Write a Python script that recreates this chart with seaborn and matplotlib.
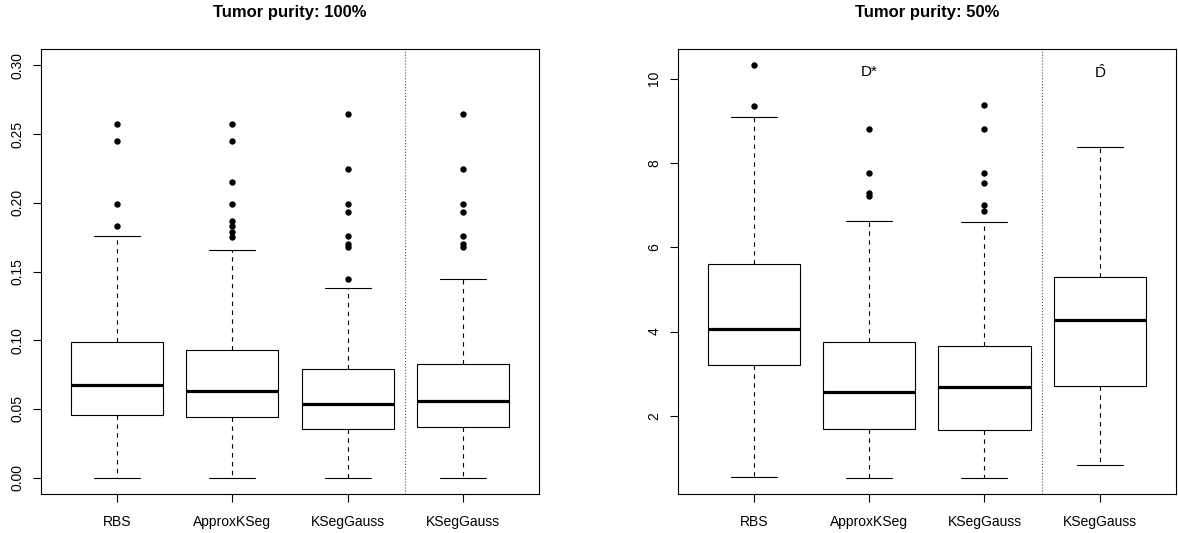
import matplotlib
matplotlib.use("Agg")
import matplotlib.pyplot as plt
import seaborn as sns
import pandas as pd

# ---- data ----
methods = ["RBS", "ApproxKSeg", "KSegGauss", "KSegGauss_2"]
tick_labels = ["RBS", "ApproxKSeg", "KSegGauss", "KSegGauss"]

# tumor purity 100%
p100_lo = [0.0, 0.0, 0.0, 0.0]
p100_q1 = [0.0452, 0.0438, 0.0356, 0.0370]
p100_med = [0.0672, 0.0627, 0.0537, 0.0559]
p100_q3 = [0.0985, 0.0927, 0.0789, 0.0830]
p100_hi = [0.1762, 0.1656, 0.1380, 0.1445]
p100_out = [
    [0.2571, 0.2450, 0.1990, 0.1830],
    [0.2571, 0.2450, 0.2150, 0.1990, 0.1869, 0.1830, 0.1791, 0.1752],
    [0.2646, 0.2246, 0.1990, 0.1930, 0.1762, 0.1700, 0.1675, 0.1445],
    [0.2646, 0.2246, 0.1990, 0.1930, 0.1762, 0.1700, 0.1675],
]

# tumor purity 50%
p50_lo = [0.557, 0.53, 0.53, 0.83]
p50_q1 = [3.20, 1.69, 1.66, 2.70]
p50_med = [4.07, 2.56, 2.69, 4.28]
p50_q3 = [5.59, 3.76, 3.66, 5.30]
p50_hi = [9.09, 6.62, 6.60, 8.38]
p50_out = [
    [10.31, 9.35],
    [8.80, 7.75, 7.29, 7.22],
    [9.37, 8.80, 7.75, 7.52, 7.00, 6.85],
    [],
]


def make_frames(lo, q1, med, q3, hi, outl):
    # five values per method -> exact quartiles / whisker ends with whis=(0,100)
    rows = []
    for i, m in enumerate(methods):
        for v in (lo[i], q1[i], med[i], q3[i], hi[i]):
            rows.append((m, v))
    box_df = pd.DataFrame(rows, columns=["method", "value"])
    orows = [(m, v) for m, vals in zip(methods, outl) for v in vals]
    out_df = pd.DataFrame(orows, columns=["method", "value"])
    return box_df, out_df


sns.set_style("ticks")
plt.rcParams["font.family"] = ["Liberation Sans", "DejaVu Sans"]
plt.rcParams["mathtext.fontset"] = "custom"
plt.rcParams["mathtext.rm"] = "Liberation Sans"
plt.rcParams["text.color"] = "black"
plt.rcParams["xtick.labelcolor"] = "black"
plt.rcParams["ytick.labelcolor"] = "black"

fig = plt.figure(figsize=(11.78, 5.33), dpi=100)
ax1 = fig.add_axes([41 / 1178, 1 - 494 / 533, 498 / 1178, 445 / 533])
ax2 = fig.add_axes([678 / 1178, 1 - 494.3 / 533, 497.7 / 1178, 445.3 / 533])


def draw_panel(ax, box_df, out_df, ylim, yticks, yfmt):
    sns.boxplot(data=box_df, x="method", y="value", order=methods, ax=ax,
                color="white", linecolor="black", linewidth=0.8, width=0.8,
                whis=(0, 100), showfliers=False,
                whiskerprops=dict(linestyle=(0, (4, 4)), color="black"),
                capprops=dict(color="black"),
                medianprops=dict(linewidth=2.3, color="black"))
    if len(out_df):
        sns.stripplot(data=out_df, x="method", y="value", order=methods, ax=ax,
                      jitter=False, color="black", size=4.6, linewidth=0)
    ax.axvline(2.5, color="#555555", linestyle=":", linewidth=0.8)
    ax.set_xlim(-0.66, 3.66)
    ax.set_ylim(*ylim)
    ax.set_xticks(range(len(methods)))
    ax.set_xticklabels(tick_labels, fontsize=10, color="black")
    ax.set_yticks(yticks)
    ax.set_yticklabels([yfmt % t for t in yticks], fontsize=10, rotation=90,
                       va="center", color="black")
    ax.tick_params(axis="both", direction="out", length=6, width=0.8, color="black")
    ax.tick_params(axis="y", pad=6)
    ax.tick_params(axis="x", pad=9)
    ax.set_xlabel("")
    ax.set_ylabel("")
    for s in ax.spines.values():
        s.set_visible(True)
        s.set_color("black")
        s.set_linewidth(0.8)


b1, o1 = make_frames(p100_lo, p100_q1, p100_med, p100_q3, p100_hi, p100_out)
b2, o2 = make_frames(p50_lo, p50_q1, p50_med, p50_q3, p50_hi, p50_out)

draw_panel(ax1, b1, o1, (-0.012, 0.312), [0.0, 0.05, 0.10, 0.15, 0.20, 0.25, 0.30], "%.2f")
draw_panel(ax2, b2, o2, (0.139, 10.70), [2, 4, 6, 8, 10], "%d")

ax2.text(1, 10.15, "D*", ha="center", va="center", fontsize=11, color="black")
ax2.text(3, 10.15, r"$\hat{\mathrm{D}}$", ha="center", va="center", fontsize=11,
         color="black")

fig.text(290 / 1178, 1 - 13 / 533, "Tumor purity: 100%", ha="center", va="center",
         fontsize=12, fontweight="bold", color="black")
fig.text(927 / 1178, 1 - 13 / 533, "Tumor purity: 50%", ha="center", va="center",
         fontsize=12, fontweight="bold", color="black")

fig.savefig("out.png", dpi=100)
